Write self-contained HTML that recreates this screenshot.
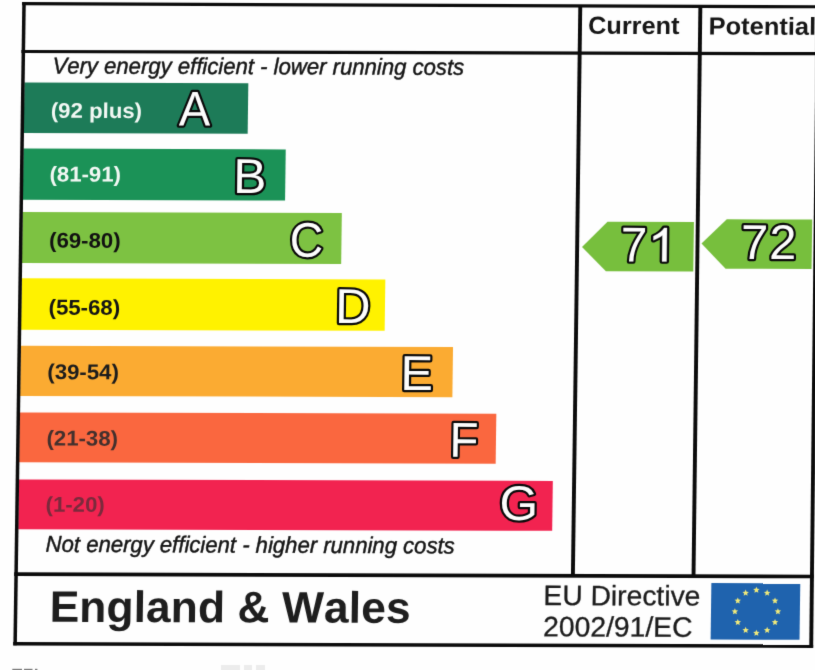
<!DOCTYPE html>
<html lang="en">
<head>
<meta charset="utf-8">
<title>Energy Efficiency Rating</title>
<style>
html,body{margin:0;padding:0;background:#fefefe;}
body{width:815px;height:670px;overflow:hidden;font-family:"Liberation Sans",sans-serif;}
svg text{white-space:pre;font-kerning:none;text-rendering:geometricPrecision;}
</style>
</head>
<body>
<svg width="815" height="670" viewBox="0 0 815 670" style="display:block">
<defs><filter id="soft" x="0" y="0" width="100%" height="100%" color-interpolation-filters="sRGB"><feConvolveMatrix order="3" kernelMatrix="0.0113 0.0838 0.0113 0.0838 0.6193 0.0838 0.0113 0.0838 0.0113" edgeMode="duplicate" preserveAlpha="true"/></filter></defs>
<rect x="-10" y="-10" width="835" height="690" fill="#fefefe"/>
<g filter="url(#soft)">
<rect x="-10" y="-10" width="835" height="690" fill="#fefefe"/>
<polygon points="24.37,82.59 248.33,83.26 247.67,133.66 23.67,132.99" fill="#1d7b58"/>
<polygon points="23.45,148.59 285.74,149.38 285.06,200.48 22.74,199.69" fill="#1b9257"/>
<polygon points="22.57,212.09 341.84,213.05 341.16,264.04 21.86,263.09" fill="#7dc242"/>
<polygon points="21.65,278.28 385.34,279.38 384.66,330.87 20.93,329.78" fill="#fff200"/>
<polygon points="20.71,345.68 453.03,346.98 452.37,397.18 20.02,395.88" fill="#fbab32"/>
<polygon points="19.79,412.38 496.33,413.81 495.67,463.71 19.09,462.28" fill="#fa673f"/>
<polygon points="18.85,479.38 552.83,480.98 552.17,530.78 18.16,529.17" fill="#f22350"/>
<polygon points="582,247 607.5,221.7 693.93,221.96 693.28,271.46 605.9,271.2" fill="#77bf3d"/>
<polygon points="701.5,243.6 726.8,219.3 812.22,219.56 811.57,268.96 725.6,268.7" fill="#77bf3d"/>
<polygon points="22.29,2.1 25.79,2.1 16.85,645.35 13.35,645.35" fill="#0b0b0b"/>
<polygon points="578.33,5.84 582.23,5.84 574.83,576.82 570.93,576.82" fill="#0b0b0b"/>
<polygon points="698.41,6.31 702.31,6.31 695.46,577.19 691.56,577.19" fill="#0b0b0b"/>
<polygon points="816.07,-2 819.97,-2 813.15,647.73 809.25,647.73" fill="#0b0b0b"/>
<polygon points="22.06,2.09 820,5.17 820,8.37 22.06,5.29" fill="#0b0b0b"/>
<polygon points="21.4,49.88 820,52.1 820,55.3 21.4,53.08" fill="#0b0b0b"/>
<polygon points="14.13,572.29 813.9,574.77 813.9,578.37 14.13,575.89" fill="#0b0b0b"/>
<polygon points="13.15,641.94 813.17,644.34 813.17,647.94 13.15,645.54" fill="#0b0b0b"/>
<text transform="matrix(1.0280 0.00308 -0.0132 1 588 33.8)" x="0 17.77 32.79 42.37 51.94 65.62 80.65" font-family='"Liberation Sans", sans-serif' font-size="24.6" font-weight="bold" font-style="normal" fill="#161616">Current</text>
<text transform="matrix(1.0350 0.00310 -0.0132 1 708.5 34.5)" x="0 16.41 31.43 39.63 53.31 68.33 76.53 83.36 97.04" font-family='"Liberation Sans", sans-serif' font-size="24.6" font-weight="bold" font-style="normal" fill="#161616">Potential</text>
<text transform="matrix(0.9655 0.00348 -0.0132 1 52.4 73.4)" x="0 15.27 28.01 35.64 47.09 53.45 66.18 78.92 91.66 99.28 112.02 123.47 129.83 142.57 148.93 155.29 160.38 171.83 176.92 189.65 202.39 208.75 215.11 222.74 229.1 234.19 246.92 263.46 276.2 283.82 290.19 297.81 310.55 323.28 336.02 341.11 353.84 366.58 372.94 384.39 397.13 408.58 414.94" font-family='"Liberation Sans", sans-serif' font-size="22.9" font-weight="normal" font-style="italic" fill="#141414" stroke="#141414" stroke-width="0.45" stroke-linejoin="round">Very energy efficient - lower running costs</text>
<text transform="matrix(0.9650 0.00386 -0.0132 1 45.6 551.8)" x="0 16.54 29.27 35.64 42 54.73 67.47 80.21 87.83 100.57 112.02 118.38 131.12 137.48 143.84 148.93 160.38 165.47 178.2 190.94 197.3 203.66 211.29 217.65 230.39 235.47 248.21 260.95 273.68 281.31 287.67 295.3 308.03 320.77 333.5 338.59 351.33 364.06 370.43 381.88 394.61 406.06 412.42" font-family='"Liberation Sans", sans-serif' font-size="22.9" font-weight="normal" font-style="italic" fill="#141414" stroke="#141414" stroke-width="0.45" stroke-linejoin="round">Not energy efficient - higher running costs</text>
<text transform="matrix(1.0420 0.00313 -0.0132 1 50.7 117.8)" x="0 7.09 18.94 30.79 36.7 49.71 55.63 68.64 80.49" font-family='"Liberation Sans", sans-serif' font-size="21.3" font-weight="bold" font-style="normal" fill="#f2f8f4">(92 plus)</text>
<text transform="matrix(1.0420 0.00313 -0.0132 1 49.4 181.4)" x="0 7.09 18.94 30.79 37.88 49.72 61.57" font-family='"Liberation Sans", sans-serif' font-size="21.3" font-weight="bold" font-style="normal" fill="#f2f8f4">(81-91)</text>
<text transform="matrix(1.0420 0.00313 -0.0132 1 49 247.6)" x="0 7.09 18.94 30.79 37.88 49.72 61.57" font-family='"Liberation Sans", sans-serif' font-size="21.3" font-weight="bold" font-style="normal" fill="#111111">(69-80)</text>
<text transform="matrix(1.0420 0.00313 -0.0132 1 48.5 314.6)" x="0 7.09 18.94 30.79 37.88 49.72 61.57" font-family='"Liberation Sans", sans-serif' font-size="21.3" font-weight="bold" font-style="normal" fill="#141414">(55-68)</text>
<text transform="matrix(1.0420 0.00313 -0.0132 1 47.3 379.1)" x="0 7.09 18.94 30.79 37.88 49.72 61.57" font-family='"Liberation Sans", sans-serif' font-size="21.3" font-weight="bold" font-style="normal" fill="#1c1c1c">(39-54)</text>
<text transform="matrix(1.0420 0.00313 -0.0132 1 46.4 445.5)" x="0 7.09 18.94 30.79 37.88 49.72 61.57" font-family='"Liberation Sans", sans-serif' font-size="21.3" font-weight="bold" font-style="normal" fill="#43302d">(21-38)</text>
<text transform="matrix(1.0420 0.00313 -0.0132 1 45.5 511.7)" x="0 7.09 18.94 26.03 37.88 49.72" font-family='"Liberation Sans", sans-serif' font-size="21.3" font-weight="bold" font-style="normal" fill="#7a2a3c">(1-20)</text>
<text transform="matrix(0.9650 0.00290 -0.0132 1 178.8 125.4)" x="0" font-family='"Liberation Sans", sans-serif' font-size="48.9" font-weight="normal" font-style="normal" fill="#fdfdfd" stroke="#0a0a0a" stroke-width="4.5" stroke-linejoin="round" paint-order="stroke fill">A</text>
<text transform="matrix(1.0200 0.00306 -0.0132 1 232.9 193.1)" x="0" font-family='"Liberation Sans", sans-serif' font-size="48.9" font-weight="normal" font-style="normal" fill="#fdfdfd" stroke="#0a0a0a" stroke-width="4.5" stroke-linejoin="round" paint-order="stroke fill">B</text>
<text transform="matrix(0.9500 0.00285 -0.0132 1 289.6 256.8)" x="0" font-family='"Liberation Sans", sans-serif' font-size="48.9" font-weight="normal" font-style="normal" fill="#fdfdfd" stroke="#0a0a0a" stroke-width="4.5" stroke-linejoin="round" paint-order="stroke fill">C</text>
<text transform="matrix(1.0000 0.00300 -0.0132 1 335.1 323)" x="0" font-family='"Liberation Sans", sans-serif' font-size="48.9" font-weight="normal" font-style="normal" fill="#fdfdfd" stroke="#0a0a0a" stroke-width="4.5" stroke-linejoin="round" paint-order="stroke fill">D</text>
<text transform="matrix(1.0000 0.00300 -0.0132 1 400.3 389.9)" x="0" font-family='"Liberation Sans", sans-serif' font-size="48.9" font-weight="normal" font-style="normal" fill="#fdfdfd" stroke="#0a0a0a" stroke-width="4.5" stroke-linejoin="round" paint-order="stroke fill">E</text>
<text transform="matrix(0.9700 0.00291 -0.0132 1 449.2 456.8)" x="0" font-family='"Liberation Sans", sans-serif' font-size="48.9" font-weight="normal" font-style="normal" fill="#fdfdfd" stroke="#0a0a0a" stroke-width="4.5" stroke-linejoin="round" paint-order="stroke fill">F</text>
<text transform="matrix(1.0200 0.00306 -0.0132 1 499.3 520)" x="0" font-family='"Liberation Sans", sans-serif' font-size="48.9" font-weight="normal" font-style="normal" fill="#fdfdfd" stroke="#0a0a0a" stroke-width="4.5" stroke-linejoin="round" paint-order="stroke fill">G</text>
<clipPath id="c7"><rect x="-6" y="-45" width="33.9" height="60"/></clipPath>
<text transform="matrix(0.9750 0.00293 -0.0132 1 620.4 261.4)" x="0 27.2" font-family='"Liberation Sans", sans-serif' font-size="48.9" font-weight="normal" font-style="normal" fill="#fdfdfd" stroke="#0a0a0a" stroke-width="4.5" stroke-linejoin="round" paint-order="stroke fill" clip-path="url(#c7)">71</text>
<path transform="matrix(24.83e-3 0.07e-3 -0.3e-3 22.86e-3 647.6 261.48)" d="M763 0H583V-1147Q518 -1085 412.5 -1023Q307 -961 223 -930V-1104Q374 -1175 487 -1276Q600 -1377 647 -1472H763Z" fill="#0a0a0a" stroke="#0a0a0a" stroke-width="201.03" stroke-linejoin="round"/>
<path transform="matrix(24.83e-3 0.07e-3 -0.3e-3 22.86e-3 647.6 261.48)" d="M763 0H583V-1147Q518 -1085 412.5 -1023Q307 -961 223 -930V-1104Q374 -1175 487 -1276Q600 -1377 647 -1472H763Z" fill="#fdfdfd" stroke="#fdfdfd" stroke-width="12.56" stroke-linejoin="round"/>
<text transform="matrix(1.0000 0.00300 -0.0132 1 740.8 258.9)" x="0 28.2" font-family='"Liberation Sans", sans-serif' font-size="48.9" font-weight="normal" font-style="normal" fill="#fdfdfd" stroke="#0a0a0a" stroke-width="4.5" stroke-linejoin="round" paint-order="stroke fill">72</text>
<text transform="matrix(1.0115 0.00303 -0.0132 1 49.4 621.8)" x="0 29.35 56.22 83.1 95.33 119.8 146.67 173.55 185.78 217.55 229.78 271.3 295.78 308 332.47" font-family='"Liberation Sans", sans-serif' font-size="44" font-weight="bold" font-style="normal" fill="#1e1e1e">England &amp; Wales</text>
<text transform="matrix(1.0090 0.00303 -0.0132 1 543.3 605)" x="0 18.68 38.9 46.68 66.9 73.12 82.44 98.01 112.01 119.79 126.01 140.01" font-family='"Liberation Sans", sans-serif' font-size="28" font-weight="normal" font-style="normal" fill="#1c1c1c" stroke="#1c1c1c" stroke-width="0.3" stroke-linejoin="round">EU Directive</text>
<text transform="matrix(1.0100 0.00303 -0.0132 1 543 636.3)" x="0 15.57 31.14 46.72 62.29 70.07 85.64 101.21 108.99 127.67" font-family='"Liberation Sans", sans-serif' font-size="28" font-weight="normal" font-style="normal" fill="#1c1c1c" stroke="#1c1c1c" stroke-width="0.3" stroke-linejoin="round">2002/91/EC</text>
<polygon points="711.37,583.1 800.27,583.37 799.52,639.87 710.62,639.6" fill="#1f63ae"/>
<polygon points="756.4,586.7 757.3,588.86 759.63,589.05 757.86,590.57 758.4,592.85 756.4,591.63 754.4,592.85 754.94,590.57 753.17,589.05 755.5,588.86" fill="#f1ea7a"/>
<polygon points="767.15,589.58 768.05,591.74 770.38,591.93 768.61,593.45 769.15,595.73 767.15,594.51 765.15,595.73 765.69,593.45 763.92,591.93 766.25,591.74" fill="#f1ea7a"/>
<polygon points="775.02,597.45 775.92,599.61 778.25,599.8 776.47,601.32 777.02,603.6 775.02,602.38 773.02,603.6 773.56,601.32 771.79,599.8 774.12,599.61" fill="#f1ea7a"/>
<polygon points="777.9,608.2 778.8,610.36 781.13,610.55 779.36,612.07 779.9,614.35 777.9,613.13 775.9,614.35 776.44,612.07 774.67,610.55 777,610.36" fill="#f1ea7a"/>
<polygon points="775.02,618.95 775.92,621.11 778.25,621.3 776.47,622.82 777.02,625.1 775.02,623.88 773.02,625.1 773.56,622.82 771.79,621.3 774.12,621.11" fill="#f1ea7a"/>
<polygon points="767.15,626.82 768.05,628.98 770.38,629.17 768.61,630.69 769.15,632.97 767.15,631.75 765.15,632.97 765.69,630.69 763.92,629.17 766.25,628.98" fill="#f1ea7a"/>
<polygon points="756.4,629.7 757.3,631.86 759.63,632.05 757.86,633.57 758.4,635.85 756.4,634.63 754.4,635.85 754.94,633.57 753.17,632.05 755.5,631.86" fill="#f1ea7a"/>
<polygon points="745.65,626.82 746.55,628.98 748.88,629.17 747.11,630.69 747.65,632.97 745.65,631.75 743.65,632.97 744.19,630.69 742.42,629.17 744.75,628.98" fill="#f1ea7a"/>
<polygon points="737.78,618.95 738.68,621.11 741.01,621.3 739.24,622.82 739.78,625.1 737.78,623.88 735.78,625.1 736.33,622.82 734.55,621.3 736.88,621.11" fill="#f1ea7a"/>
<polygon points="734.9,608.2 735.8,610.36 738.13,610.55 736.36,612.07 736.9,614.35 734.9,613.13 732.9,614.35 733.44,612.07 731.67,610.55 734,610.36" fill="#f1ea7a"/>
<polygon points="737.78,597.45 738.68,599.61 741.01,599.8 739.24,601.32 739.78,603.6 737.78,602.38 735.78,603.6 736.33,601.32 734.55,599.8 736.88,599.61" fill="#f1ea7a"/>
<polygon points="745.65,589.58 746.55,591.74 748.88,591.93 747.11,593.45 747.65,595.73 745.65,594.51 743.65,595.73 744.19,593.45 742.42,591.93 744.75,591.74" fill="#f1ea7a"/>
<rect x="12.3" y="668.8" width="9.7" height="3" fill="#7c7c7c"/>
<rect x="24" y="668.8" width="8.5" height="3" fill="#7c7c7c"/>
<rect x="35" y="668.8" width="2.4" height="3" fill="#7c7c7c"/>
<rect x="221" y="665" width="19" height="6" fill="#ececec"/>
<rect x="244" y="665" width="8" height="6" fill="#ececec"/>
<rect x="256" y="665" width="9" height="6" fill="#ececec"/>
</g>
</svg>
</body>
</html>
